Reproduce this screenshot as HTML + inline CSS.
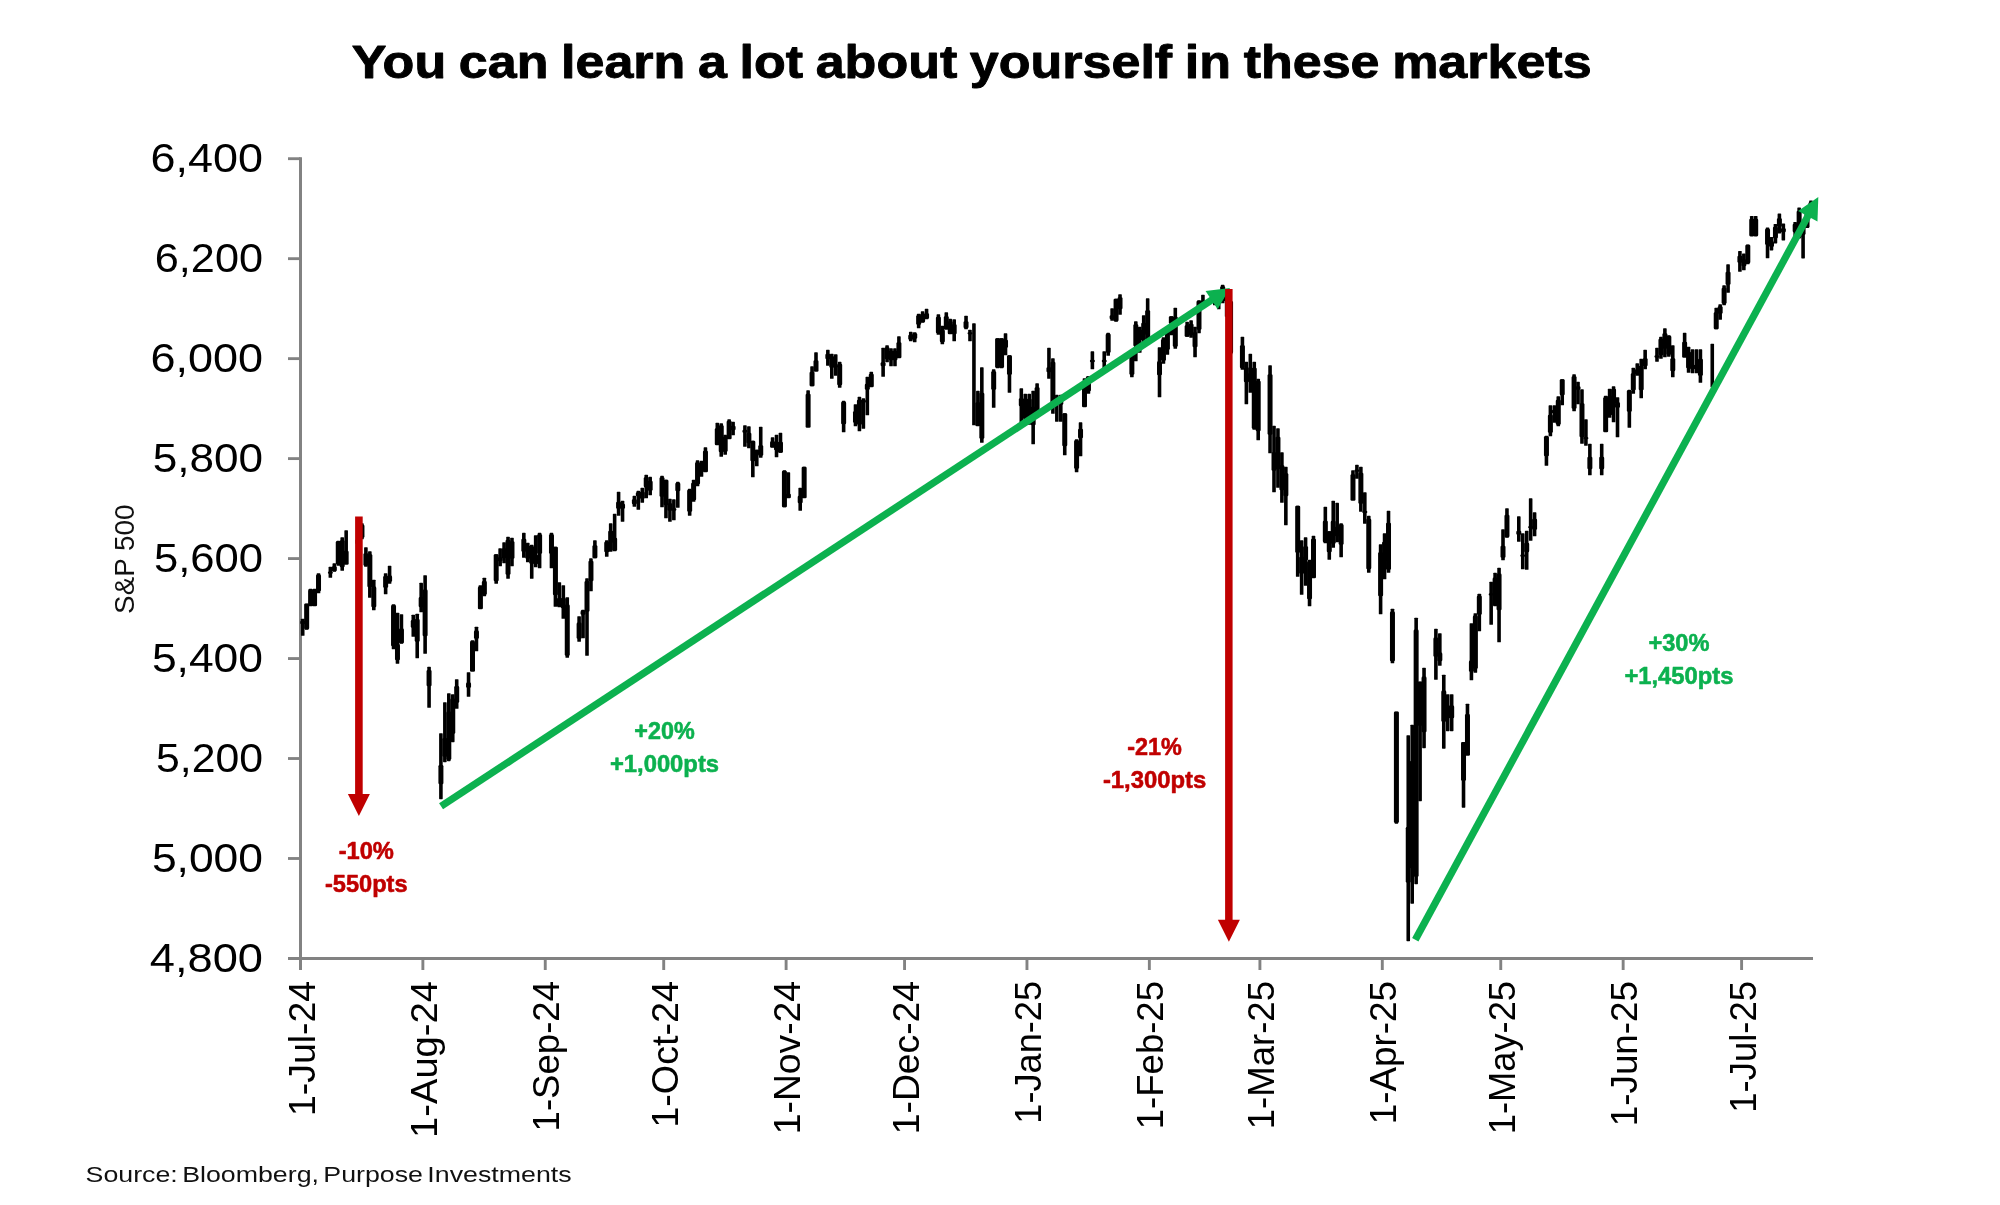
<!DOCTYPE html>
<html><head><meta charset="utf-8"><title>S&amp;P 500 chart</title>
<style>html,body{margin:0;padding:0;background:#fff}svg{will-change:transform}body{width:2000px;height:1205px;overflow:hidden;font-family:"Liberation Sans", sans-serif}</style>
</head><body>
<svg width="2000" height="1205" viewBox="0 0 2000 1205" style="display:block">
<rect width="2000" height="1205" fill="#fff"/>
<text x="351.8" y="78.2" font-family='"Liberation Sans", sans-serif' font-weight="700" font-size="46.2" word-spacing="-1.6" textLength="1239.8" lengthAdjust="spacingAndGlyphs" fill="#000" stroke="#000" stroke-width="0.9" stroke-linejoin="round">You can learn a lot about yourself in these markets</text>
<g stroke="#828282" fill="none">
<line x1="300.5" y1="157.2" x2="300.5" y2="970" stroke-width="3"/>
<line x1="288" y1="958.5" x2="1813" y2="958.5" stroke-width="2.95"/>
<line x1="288" y1="158.7" x2="300.5" y2="158.7" stroke-width="2.85"/>
<line x1="288" y1="258.67" x2="300.5" y2="258.67" stroke-width="2.85"/>
<line x1="288" y1="358.64" x2="300.5" y2="358.64" stroke-width="2.85"/>
<line x1="288" y1="458.61" x2="300.5" y2="458.61" stroke-width="2.85"/>
<line x1="288" y1="558.58" x2="300.5" y2="558.58" stroke-width="2.85"/>
<line x1="288" y1="658.55" x2="300.5" y2="658.55" stroke-width="2.85"/>
<line x1="288" y1="758.52" x2="300.5" y2="758.52" stroke-width="2.85"/>
<line x1="288" y1="858.49" x2="300.5" y2="858.49" stroke-width="2.85"/>
<line x1="422.87" y1="958.45" x2="422.87" y2="970" stroke-width="2.9"/>
<line x1="545.26" y1="958.45" x2="545.26" y2="970" stroke-width="2.9"/>
<line x1="663.71" y1="958.45" x2="663.71" y2="970" stroke-width="2.9"/>
<line x1="786.11" y1="958.45" x2="786.11" y2="970" stroke-width="2.9"/>
<line x1="904.56" y1="958.45" x2="904.56" y2="970" stroke-width="2.9"/>
<line x1="1026.96" y1="958.45" x2="1026.96" y2="970" stroke-width="2.9"/>
<line x1="1149.35" y1="958.45" x2="1149.35" y2="970" stroke-width="2.9"/>
<line x1="1259.91" y1="958.45" x2="1259.91" y2="970" stroke-width="2.9"/>
<line x1="1382.3" y1="958.45" x2="1382.3" y2="970" stroke-width="2.9"/>
<line x1="1500.75" y1="958.45" x2="1500.75" y2="970" stroke-width="2.9"/>
<line x1="1623.15" y1="958.45" x2="1623.15" y2="970" stroke-width="2.9"/>
<line x1="1741.6" y1="958.45" x2="1741.6" y2="970" stroke-width="2.9"/>
</g>
<g font-family='"Liberation Sans", sans-serif' font-size="41.3" fill="#000">
<text x="150.6" y="172.4" textLength="112.4" lengthAdjust="spacingAndGlyphs">6,400</text>
<text x="154.8" y="272.4" textLength="108.2" lengthAdjust="spacingAndGlyphs">6,200</text>
<text x="150.4" y="372.4" textLength="112.6" lengthAdjust="spacingAndGlyphs">6,000</text>
<text x="152.7" y="472.4" textLength="110.3" lengthAdjust="spacingAndGlyphs">5,800</text>
<text x="153.9" y="572.4" textLength="109.1" lengthAdjust="spacingAndGlyphs">5,600</text>
<text x="151.9" y="672.4" textLength="111.1" lengthAdjust="spacingAndGlyphs">5,400</text>
<text x="156" y="772.4" textLength="107" lengthAdjust="spacingAndGlyphs">5,200</text>
<text x="151.9" y="872.4" textLength="111.1" lengthAdjust="spacingAndGlyphs">5,000</text>
<text x="149.8" y="972.4" textLength="113.2" lengthAdjust="spacingAndGlyphs">4,800</text>
</g>
<g font-family='"Liberation Sans", sans-serif' font-size="36" fill="#000">
<text transform="translate(314.5 1115.9) rotate(-90)" textLength="134.9" lengthAdjust="spacingAndGlyphs">1-Jul-24</text>
<text transform="translate(436.87 1138) rotate(-90)" textLength="157" lengthAdjust="spacingAndGlyphs">1-Aug-24</text>
<text transform="translate(559.26 1131.4) rotate(-90)" textLength="150.4" lengthAdjust="spacingAndGlyphs">1-Sep-24</text>
<text transform="translate(677.71 1127.7) rotate(-90)" textLength="146.7" lengthAdjust="spacingAndGlyphs">1-Oct-24</text>
<text transform="translate(800.11 1134.2) rotate(-90)" textLength="153.2" lengthAdjust="spacingAndGlyphs">1-Nov-24</text>
<text transform="translate(918.56 1134.2) rotate(-90)" textLength="153.2" lengthAdjust="spacingAndGlyphs">1-Dec-24</text>
<text transform="translate(1040.96 1123.7) rotate(-90)" textLength="142.7" lengthAdjust="spacingAndGlyphs">1-Jan-25</text>
<text transform="translate(1163.35 1129.2) rotate(-90)" textLength="148.2" lengthAdjust="spacingAndGlyphs">1-Feb-25</text>
<text transform="translate(1273.91 1129.2) rotate(-90)" textLength="148.2" lengthAdjust="spacingAndGlyphs">1-Mar-25</text>
<text transform="translate(1396.3 1124.2) rotate(-90)" textLength="143.2" lengthAdjust="spacingAndGlyphs">1-Apr-25</text>
<text transform="translate(1514.75 1134.2) rotate(-90)" textLength="153.2" lengthAdjust="spacingAndGlyphs">1-May-25</text>
<text transform="translate(1637.15 1126.2) rotate(-90)" textLength="145.2" lengthAdjust="spacingAndGlyphs">1-Jun-25</text>
<text transform="translate(1755.6 1112.7) rotate(-90)" textLength="131.7" lengthAdjust="spacingAndGlyphs">1-Jul-25</text>
</g>
<text transform="translate(133.7 613.9) rotate(-90)" font-family='"Liberation Sans", sans-serif' font-size="26.8" textLength="109.3" lengthAdjust="spacingAndGlyphs" fill="#111">S&amp;P 500</text>
<text x="85.6" y="1182.3" font-family='"Liberation Sans", sans-serif' font-size="22.6" word-spacing="-2.6" textLength="486" lengthAdjust="spacingAndGlyphs" fill="#111">Source: Bloomberg, Purpose Investments</text>
<defs><filter id="cb" x="-2%" y="-2%" width="104%" height="104%"><feGaussianBlur stdDeviation="0.5"/></filter></defs>
<g fill="#000" filter="url(#cb)">
<rect x="300.92" y="618.76" width="3.6" height="16.99" rx="0.6"/>
<rect x="300.22" y="620.61" width="5" height="3.65" rx="1.3"/>
<rect x="304.87" y="603.76" width="3.6" height="25.99" rx="0.6"/>
<rect x="304.17" y="603.61" width="5" height="25.64" rx="1.3"/>
<rect x="308.82" y="588.77" width="3.6" height="16.49" rx="0.6"/>
<rect x="308.12" y="589.62" width="5" height="16.65" rx="1.3"/>
<rect x="312.77" y="588.77" width="3.6" height="16.49" rx="0.6"/>
<rect x="312.07" y="589.62" width="5" height="16.65" rx="1.3"/>
<rect x="316.72" y="573.27" width="3.6" height="19.99" rx="0.6"/>
<rect x="316.02" y="574.62" width="5" height="16.65" rx="1.3"/>
<rect x="328.56" y="566.78" width="3.6" height="11" rx="0.6"/>
<rect x="327.86" y="571.57" width="5" height="2.25" rx="1.3"/>
<rect x="332.51" y="563.28" width="3.6" height="8.5" rx="0.6"/>
<rect x="331.81" y="566.13" width="5" height="5.15" rx="1.3"/>
<rect x="336.46" y="540.78" width="3.6" height="24.99" rx="0.6"/>
<rect x="335.76" y="541.13" width="5" height="23.14" rx="1.3"/>
<rect x="340.41" y="537.28" width="3.6" height="33.49" rx="0.6"/>
<rect x="339.71" y="540.13" width="5" height="27.14" rx="1.3"/>
<rect x="344.36" y="530.29" width="3.6" height="33.49" rx="0.6"/>
<rect x="343.66" y="550.63" width="5" height="14.15" rx="1.3"/>
<rect x="356.2" y="525.29" width="3.6" height="26.49" rx="0.6"/>
<rect x="355.5" y="539.13" width="5" height="5.15" rx="1.3"/>
<rect x="360.15" y="523.29" width="3.6" height="16" rx="0.6"/>
<rect x="359.45" y="524.64" width="5" height="13.15" rx="1.3"/>
<rect x="364.1" y="547.28" width="3.6" height="19.49" rx="0.6"/>
<rect x="363.4" y="553.13" width="5" height="12.65" rx="1.3"/>
<rect x="368.05" y="551.28" width="3.6" height="46.49" rx="0.6"/>
<rect x="367.35" y="554.13" width="5" height="33.14" rx="1.3"/>
<rect x="371.99" y="579.77" width="3.6" height="30.49" rx="0.6"/>
<rect x="371.29" y="586.62" width="5" height="20.64" rx="1.3"/>
<rect x="383.84" y="573.27" width="3.6" height="20.99" rx="0.6"/>
<rect x="383.14" y="576.12" width="5" height="11.65" rx="1.3"/>
<rect x="387.79" y="565.78" width="3.6" height="17.99" rx="0.6"/>
<rect x="387.09" y="575.62" width="5" height="6.15" rx="1.3"/>
<rect x="391.74" y="604.26" width="3.6" height="44.99" rx="0.6"/>
<rect x="391.04" y="605.11" width="5" height="41.14" rx="1.3"/>
<rect x="395.68" y="612.76" width="3.6" height="50.98" rx="0.6"/>
<rect x="394.98" y="644.1" width="5" height="16.15" rx="1.3"/>
<rect x="399.63" y="614.26" width="3.6" height="29.49" rx="0.6"/>
<rect x="398.93" y="628.61" width="5" height="14.65" rx="1.3"/>
<rect x="411.48" y="614.76" width="3.6" height="21.99" rx="0.6"/>
<rect x="410.78" y="620.11" width="5" height="7.65" rx="1.3"/>
<rect x="415.42" y="613.76" width="3.6" height="44.49" rx="0.6"/>
<rect x="414.72" y="619.11" width="5" height="22.64" rx="1.3"/>
<rect x="419.37" y="582.77" width="3.6" height="29.49" rx="0.6"/>
<rect x="418.67" y="597.12" width="5" height="10.15" rx="1.3"/>
<rect x="423.32" y="575.27" width="3.6" height="78.48" rx="0.6"/>
<rect x="422.62" y="589.62" width="5" height="46.64" rx="1.3"/>
<rect x="427.27" y="666.74" width="3.6" height="40.99" rx="0.6"/>
<rect x="426.57" y="670.09" width="5" height="16.15" rx="1.3"/>
<rect x="439.11" y="733.22" width="3.6" height="65.98" rx="0.6"/>
<rect x="438.41" y="765.06" width="5" height="19.14" rx="1.3"/>
<rect x="443.06" y="702.23" width="3.6" height="59.98" rx="0.6"/>
<rect x="442.36" y="738.07" width="5" height="18.64" rx="1.3"/>
<rect x="447.01" y="693.23" width="3.6" height="67.98" rx="0.6"/>
<rect x="446.31" y="711.58" width="5" height="48.14" rx="1.3"/>
<rect x="450.96" y="694.23" width="3.6" height="47.98" rx="0.6"/>
<rect x="450.26" y="698.58" width="5" height="35.14" rx="1.3"/>
<rect x="454.91" y="679.24" width="3.6" height="29.49" rx="0.6"/>
<rect x="454.21" y="686.09" width="5" height="16.65" rx="1.3"/>
<rect x="466.75" y="672.24" width="3.6" height="24.49" rx="0.6"/>
<rect x="466.05" y="682.59" width="5" height="5.15" rx="1.3"/>
<rect x="470.7" y="640.25" width="3.6" height="30.49" rx="0.6"/>
<rect x="470" y="641.1" width="5" height="30.64" rx="1.3"/>
<rect x="474.65" y="626.76" width="3.6" height="24.49" rx="0.6"/>
<rect x="473.95" y="630.6" width="5" height="8.15" rx="1.3"/>
<rect x="478.6" y="585.27" width="3.6" height="22.99" rx="0.6"/>
<rect x="477.9" y="586.62" width="5" height="22.64" rx="1.3"/>
<rect x="482.55" y="577.77" width="3.6" height="18.49" rx="0.6"/>
<rect x="481.85" y="581.12" width="5" height="13.65" rx="1.3"/>
<rect x="494.39" y="554.28" width="3.6" height="29.49" rx="0.6"/>
<rect x="493.69" y="554.13" width="5" height="27.14" rx="1.3"/>
<rect x="498.34" y="548.28" width="3.6" height="17.99" rx="0.6"/>
<rect x="497.64" y="557.13" width="5" height="4.15" rx="1.3"/>
<rect x="502.29" y="542.28" width="3.6" height="20.99" rx="0.6"/>
<rect x="501.59" y="548.13" width="5" height="10.15" rx="1.3"/>
<rect x="506.24" y="536.78" width="3.6" height="41.99" rx="0.6"/>
<rect x="505.54" y="539.63" width="5" height="35.14" rx="1.3"/>
<rect x="510.18" y="537.78" width="3.6" height="28.49" rx="0.6"/>
<rect x="509.48" y="541.13" width="5" height="17.64" rx="1.3"/>
<rect x="522.03" y="532.79" width="3.6" height="24.99" rx="0.6"/>
<rect x="521.33" y="538.63" width="5" height="13.15" rx="1.3"/>
<rect x="525.98" y="542.78" width="3.6" height="19.49" rx="0.6"/>
<rect x="525.28" y="545.63" width="5" height="13.15" rx="1.3"/>
<rect x="529.93" y="544.78" width="3.6" height="33.99" rx="0.6"/>
<rect x="529.23" y="546.13" width="5" height="17.64" rx="1.3"/>
<rect x="533.87" y="535.29" width="3.6" height="31.99" rx="0.6"/>
<rect x="533.17" y="554.63" width="5" height="9.65" rx="1.3"/>
<rect x="537.82" y="532.79" width="3.6" height="35.49" rx="0.6"/>
<rect x="537.12" y="534.14" width="5" height="19.64" rx="1.3"/>
<rect x="549.67" y="532.79" width="3.6" height="35.49" rx="0.6"/>
<rect x="548.97" y="534.14" width="5" height="19.64" rx="1.3"/>
<rect x="553.62" y="546.78" width="3.6" height="59.98" rx="0.6"/>
<rect x="552.92" y="546.63" width="5" height="48.63" rx="1.3"/>
<rect x="557.56" y="582.27" width="3.6" height="24.99" rx="0.6"/>
<rect x="556.86" y="598.12" width="5" height="8.65" rx="1.3"/>
<rect x="561.51" y="585.27" width="3.6" height="33.49" rx="0.6"/>
<rect x="560.81" y="598.12" width="5" height="10.15" rx="1.3"/>
<rect x="565.46" y="597.27" width="3.6" height="60.48" rx="0.6"/>
<rect x="564.76" y="604.61" width="5" height="51.13" rx="1.3"/>
<rect x="577.31" y="616.26" width="3.6" height="25.49" rx="0.6"/>
<rect x="576.61" y="622.61" width="5" height="16.15" rx="1.3"/>
<rect x="581.25" y="609.76" width="3.6" height="28.49" rx="0.6"/>
<rect x="580.55" y="610.61" width="5" height="4.15" rx="1.3"/>
<rect x="585.2" y="578.27" width="3.6" height="77.48" rx="0.6"/>
<rect x="584.5" y="581.12" width="5" height="30.64" rx="1.3"/>
<rect x="589.15" y="558.28" width="3.6" height="32.99" rx="0.6"/>
<rect x="588.45" y="560.63" width="5" height="20.64" rx="1.3"/>
<rect x="593.1" y="540.28" width="3.6" height="17.99" rx="0.6"/>
<rect x="592.4" y="545.13" width="5" height="13.15" rx="1.3"/>
<rect x="604.94" y="540.28" width="3.6" height="16.49" rx="0.6"/>
<rect x="604.24" y="541.63" width="5" height="10.65" rx="1.3"/>
<rect x="608.89" y="523.29" width="3.6" height="28.49" rx="0.6"/>
<rect x="608.19" y="530.64" width="5" height="12.15" rx="1.3"/>
<rect x="612.84" y="513.79" width="3.6" height="37.49" rx="0.6"/>
<rect x="612.14" y="537.63" width="5" height="13.15" rx="1.3"/>
<rect x="616.79" y="491.8" width="3.6" height="23.99" rx="0.6"/>
<rect x="616.09" y="501.65" width="5" height="7.15" rx="1.3"/>
<rect x="620.74" y="500.8" width="3.6" height="20.99" rx="0.6"/>
<rect x="620.04" y="503.65" width="5" height="5.15" rx="1.3"/>
<rect x="632.58" y="495.8" width="3.6" height="11" rx="0.6"/>
<rect x="631.88" y="499.15" width="5" height="5.15" rx="1.3"/>
<rect x="636.53" y="490.8" width="3.6" height="18.99" rx="0.6"/>
<rect x="635.83" y="492.15" width="5" height="4.15" rx="1.3"/>
<rect x="640.48" y="487.8" width="3.6" height="15" rx="0.6"/>
<rect x="639.78" y="491.65" width="5" height="7.15" rx="1.3"/>
<rect x="644.43" y="474.8" width="3.6" height="23.49" rx="0.6"/>
<rect x="643.73" y="477.15" width="5" height="10.15" rx="1.3"/>
<rect x="648.37" y="476.8" width="3.6" height="18.49" rx="0.6"/>
<rect x="647.67" y="480.65" width="5" height="10.15" rx="1.3"/>
<rect x="660.22" y="475.8" width="3.6" height="31.49" rx="0.6"/>
<rect x="659.52" y="477.15" width="5" height="19.64" rx="1.3"/>
<rect x="664.17" y="479.8" width="3.6" height="38.49" rx="0.6"/>
<rect x="663.47" y="479.65" width="5" height="25.64" rx="1.3"/>
<rect x="668.12" y="498.8" width="3.6" height="22.99" rx="0.6"/>
<rect x="667.42" y="503.15" width="5" height="7.65" rx="1.3"/>
<rect x="672.06" y="499.3" width="3.6" height="20.99" rx="0.6"/>
<rect x="671.36" y="508.14" width="5" height="2.65" rx="1.3"/>
<rect x="676.01" y="481.8" width="3.6" height="25.99" rx="0.6"/>
<rect x="675.31" y="482.65" width="5" height="8.65" rx="1.3"/>
<rect x="687.86" y="488.8" width="3.6" height="26.99" rx="0.6"/>
<rect x="687.16" y="489.65" width="5" height="22.14" rx="1.3"/>
<rect x="691.81" y="479.8" width="3.6" height="21.99" rx="0.6"/>
<rect x="691.11" y="482.65" width="5" height="17.64" rx="1.3"/>
<rect x="695.75" y="460.31" width="3.6" height="25.99" rx="0.6"/>
<rect x="695.05" y="462.16" width="5" height="22.14" rx="1.3"/>
<rect x="699.7" y="460.81" width="3.6" height="16" rx="0.6"/>
<rect x="699" y="468.16" width="5" height="2.65" rx="1.3"/>
<rect x="703.65" y="447.31" width="3.6" height="23.99" rx="0.6"/>
<rect x="702.95" y="450.66" width="5" height="21.64" rx="1.3"/>
<rect x="715.5" y="422.82" width="3.6" height="21.49" rx="0.6"/>
<rect x="714.8" y="428.17" width="5" height="17.15" rx="1.3"/>
<rect x="719.44" y="423.32" width="3.6" height="33.49" rx="0.6"/>
<rect x="718.74" y="425.17" width="5" height="27.14" rx="1.3"/>
<rect x="723.39" y="434.82" width="3.6" height="19.99" rx="0.6"/>
<rect x="722.69" y="436.67" width="5" height="15.15" rx="1.3"/>
<rect x="727.34" y="419.32" width="3.6" height="19.49" rx="0.6"/>
<rect x="726.64" y="420.67" width="5" height="18.64" rx="1.3"/>
<rect x="731.29" y="421.82" width="3.6" height="13.5" rx="0.6"/>
<rect x="730.59" y="425.67" width="5" height="4.65" rx="1.3"/>
<rect x="743.13" y="425.32" width="3.6" height="21.49" rx="0.6"/>
<rect x="742.43" y="429.67" width="5" height="3.15" rx="1.3"/>
<rect x="747.08" y="426.32" width="3.6" height="21.99" rx="0.6"/>
<rect x="746.38" y="432.67" width="5" height="10.65" rx="1.3"/>
<rect x="751.03" y="440.82" width="3.6" height="36.49" rx="0.6"/>
<rect x="750.33" y="440.67" width="5" height="20.64" rx="1.3"/>
<rect x="754.98" y="449.81" width="3.6" height="16.49" rx="0.6"/>
<rect x="754.28" y="449.66" width="5" height="5.15" rx="1.3"/>
<rect x="758.93" y="426.82" width="3.6" height="30.99" rx="0.6"/>
<rect x="758.23" y="445.16" width="5" height="10.65" rx="1.3"/>
<rect x="770.77" y="437.32" width="3.6" height="10" rx="0.6"/>
<rect x="770.07" y="441.17" width="5" height="6.65" rx="1.3"/>
<rect x="774.72" y="434.82" width="3.6" height="22.49" rx="0.6"/>
<rect x="774.02" y="441.67" width="5" height="8.65" rx="1.3"/>
<rect x="778.67" y="432.82" width="3.6" height="19.99" rx="0.6"/>
<rect x="777.97" y="441.67" width="5" height="11.15" rx="1.3"/>
<rect x="782.62" y="470.31" width="3.6" height="36.99" rx="0.6"/>
<rect x="781.92" y="470.66" width="5" height="36.64" rx="1.3"/>
<rect x="786.57" y="472.31" width="3.6" height="24.99" rx="0.6"/>
<rect x="785.87" y="493.65" width="5" height="4.65" rx="1.3"/>
<rect x="798.41" y="487.8" width="3.6" height="22.99" rx="0.6"/>
<rect x="797.71" y="495.65" width="5" height="7.65" rx="1.3"/>
<rect x="802.36" y="466.81" width="3.6" height="30.99" rx="0.6"/>
<rect x="801.66" y="466.66" width="5" height="31.64" rx="1.3"/>
<rect x="806.31" y="390.33" width="3.6" height="36.49" rx="0.6"/>
<rect x="805.61" y="393.68" width="5" height="34.14" rx="1.3"/>
<rect x="810.25" y="366.34" width="3.6" height="19.99" rx="0.6"/>
<rect x="809.55" y="371.69" width="5" height="14.65" rx="1.3"/>
<rect x="814.2" y="352.34" width="3.6" height="18.49" rx="0.6"/>
<rect x="813.5" y="360.19" width="5" height="11.65" rx="1.3"/>
<rect x="826.05" y="349.84" width="3.6" height="16" rx="0.6"/>
<rect x="825.35" y="353.69" width="5" height="5.65" rx="1.3"/>
<rect x="830" y="353.84" width="3.6" height="24.99" rx="0.6"/>
<rect x="829.3" y="356.19" width="5" height="11.65" rx="1.3"/>
<rect x="833.94" y="354.34" width="3.6" height="21.49" rx="0.6"/>
<rect x="833.24" y="365.14" width="5" height="2.25" rx="1.3"/>
<rect x="837.89" y="361.84" width="3.6" height="25.99" rx="0.6"/>
<rect x="837.19" y="363.69" width="5" height="21.64" rx="1.3"/>
<rect x="841.84" y="400.83" width="3.6" height="31.49" rx="0.6"/>
<rect x="841.14" y="401.68" width="5" height="22.64" rx="1.3"/>
<rect x="853.69" y="404.33" width="3.6" height="21.99" rx="0.6"/>
<rect x="852.99" y="411.18" width="5" height="11.65" rx="1.3"/>
<rect x="857.63" y="396.83" width="3.6" height="34.49" rx="0.6"/>
<rect x="856.93" y="399.68" width="5" height="25.14" rx="1.3"/>
<rect x="861.58" y="398.33" width="3.6" height="30.49" rx="0.6"/>
<rect x="860.88" y="399.68" width="5" height="3.15" rx="1.3"/>
<rect x="865.53" y="376.84" width="3.6" height="38.49" rx="0.6"/>
<rect x="864.83" y="383.68" width="5" height="6.15" rx="1.3"/>
<rect x="869.48" y="371.84" width="3.6" height="15" rx="0.6"/>
<rect x="868.78" y="373.69" width="5" height="13.65" rx="1.3"/>
<rect x="881.32" y="347.85" width="3.6" height="28.99" rx="0.6"/>
<rect x="880.62" y="362.19" width="5" height="4.15" rx="1.3"/>
<rect x="885.27" y="345.35" width="3.6" height="16.99" rx="0.6"/>
<rect x="884.57" y="347.2" width="5" height="12.15" rx="1.3"/>
<rect x="889.22" y="348.35" width="3.6" height="17.99" rx="0.6"/>
<rect x="888.52" y="350.69" width="5" height="9.65" rx="1.3"/>
<rect x="893.17" y="348.35" width="3.6" height="17.99" rx="0.6"/>
<rect x="892.47" y="350.69" width="5" height="9.65" rx="1.3"/>
<rect x="897.12" y="336.35" width="3.6" height="20.99" rx="0.6"/>
<rect x="896.42" y="342.2" width="5" height="16.15" rx="1.3"/>
<rect x="908.96" y="331.85" width="3.6" height="9.5" rx="0.6"/>
<rect x="908.26" y="334.7" width="5" height="5.15" rx="1.3"/>
<rect x="912.91" y="332.35" width="3.6" height="10" rx="0.6"/>
<rect x="912.21" y="333.2" width="5" height="5.65" rx="1.3"/>
<rect x="916.86" y="313.86" width="3.6" height="14.5" rx="0.6"/>
<rect x="916.16" y="315.21" width="5" height="9.65" rx="1.3"/>
<rect x="920.81" y="311.36" width="3.6" height="11.5" rx="0.6"/>
<rect x="920.11" y="313.71" width="5" height="8.65" rx="1.3"/>
<rect x="924.76" y="308.86" width="3.6" height="10.5" rx="0.6"/>
<rect x="924.06" y="313.21" width="5" height="5.65" rx="1.3"/>
<rect x="936.6" y="314.36" width="3.6" height="20.49" rx="0.6"/>
<rect x="935.9" y="316.71" width="5" height="16.65" rx="1.3"/>
<rect x="940.55" y="325.85" width="3.6" height="18.49" rx="0.6"/>
<rect x="939.85" y="329.7" width="5" height="12.65" rx="1.3"/>
<rect x="944.5" y="312.36" width="3.6" height="16.49" rx="0.6"/>
<rect x="943.8" y="316.21" width="5" height="13.65" rx="1.3"/>
<rect x="948.45" y="318.85" width="3.6" height="14.5" rx="0.6"/>
<rect x="947.75" y="321.2" width="5" height="13.15" rx="1.3"/>
<rect x="952.39" y="319.35" width="3.6" height="21.99" rx="0.6"/>
<rect x="951.69" y="324.2" width="5" height="10.15" rx="1.3"/>
<rect x="964.24" y="315.86" width="3.6" height="13.5" rx="0.6"/>
<rect x="963.54" y="321.2" width="5" height="7.15" rx="1.3"/>
<rect x="968.19" y="329.85" width="3.6" height="11.5" rx="0.6"/>
<rect x="967.49" y="332.15" width="5" height="2.25" rx="1.3"/>
<rect x="972.14" y="323.35" width="3.6" height="101.97" rx="0.6"/>
<rect x="976.08" y="390.83" width="3.6" height="34.99" rx="0.6"/>
<rect x="975.38" y="402.18" width="5" height="24.14" rx="1.3"/>
<rect x="980.03" y="367.34" width="3.6" height="75.48" rx="0.6"/>
<rect x="979.33" y="392.68" width="5" height="46.14" rx="1.3"/>
<rect x="991.88" y="369.34" width="3.6" height="38.49" rx="0.6"/>
<rect x="991.18" y="371.19" width="5" height="18.64" rx="1.3"/>
<rect x="995.82" y="338.35" width="3.6" height="29.99" rx="0.6"/>
<rect x="995.12" y="338.2" width="5" height="29.64" rx="1.3"/>
<rect x="999.77" y="338.35" width="3.6" height="29.99" rx="0.6"/>
<rect x="999.07" y="338.2" width="5" height="29.64" rx="1.3"/>
<rect x="1003.72" y="333.35" width="3.6" height="21.99" rx="0.6"/>
<rect x="1003.02" y="339.7" width="5" height="8.15" rx="1.3"/>
<rect x="1007.67" y="355.34" width="3.6" height="37.49" rx="0.6"/>
<rect x="1006.97" y="355.19" width="5" height="19.64" rx="1.3"/>
<rect x="1019.51" y="388.33" width="3.6" height="35.99" rx="0.6"/>
<rect x="1018.81" y="398.18" width="5" height="8.15" rx="1.3"/>
<rect x="1023.46" y="393.83" width="3.6" height="30.99" rx="0.6"/>
<rect x="1022.76" y="398.68" width="5" height="20.14" rx="1.3"/>
<rect x="1027.41" y="393.83" width="3.6" height="30.99" rx="0.6"/>
<rect x="1026.71" y="398.68" width="5" height="20.14" rx="1.3"/>
<rect x="1031.36" y="390.83" width="3.6" height="53.48" rx="0.6"/>
<rect x="1030.66" y="406.68" width="5" height="18.64" rx="1.3"/>
<rect x="1035.31" y="383.33" width="3.6" height="31.49" rx="0.6"/>
<rect x="1034.61" y="387.18" width="5" height="27.14" rx="1.3"/>
<rect x="1047.15" y="347.85" width="3.6" height="30.99" rx="0.6"/>
<rect x="1046.45" y="367.19" width="5" height="5.15" rx="1.3"/>
<rect x="1051.1" y="358.34" width="3.6" height="55.48" rx="0.6"/>
<rect x="1050.4" y="361.69" width="5" height="43.64" rx="1.3"/>
<rect x="1055.05" y="394.83" width="3.6" height="26.99" rx="0.6"/>
<rect x="1054.35" y="399.18" width="5" height="5.65" rx="1.3"/>
<rect x="1059" y="394.83" width="3.6" height="26.99" rx="0.6"/>
<rect x="1058.3" y="399.18" width="5" height="5.65" rx="1.3"/>
<rect x="1062.95" y="413.32" width="3.6" height="41.99" rx="0.6"/>
<rect x="1062.25" y="413.17" width="5" height="33.14" rx="1.3"/>
<rect x="1074.79" y="439.32" width="3.6" height="32.99" rx="0.6"/>
<rect x="1074.09" y="440.17" width="5" height="28.64" rx="1.3"/>
<rect x="1078.74" y="422.32" width="3.6" height="33.99" rx="0.6"/>
<rect x="1078.04" y="428.67" width="5" height="9.65" rx="1.3"/>
<rect x="1082.69" y="378.34" width="3.6" height="27.99" rx="0.6"/>
<rect x="1081.99" y="383.18" width="5" height="24.14" rx="1.3"/>
<rect x="1086.64" y="376.34" width="3.6" height="17.49" rx="0.6"/>
<rect x="1085.94" y="376.19" width="5" height="15.15" rx="1.3"/>
<rect x="1090.58" y="351.34" width="3.6" height="17.99" rx="0.6"/>
<rect x="1089.88" y="359.69" width="5" height="2.65" rx="1.3"/>
<rect x="1102.43" y="351.34" width="3.6" height="17.99" rx="0.6"/>
<rect x="1101.73" y="359.69" width="5" height="2.65" rx="1.3"/>
<rect x="1106.38" y="332.85" width="3.6" height="22.99" rx="0.6"/>
<rect x="1105.68" y="333.7" width="5" height="19.14" rx="1.3"/>
<rect x="1110.33" y="308.36" width="3.6" height="12.5" rx="0.6"/>
<rect x="1109.63" y="315.21" width="5" height="4.15" rx="1.3"/>
<rect x="1114.27" y="298.86" width="3.6" height="22.99" rx="0.6"/>
<rect x="1113.57" y="298.71" width="5" height="22.64" rx="1.3"/>
<rect x="1118.22" y="294.36" width="3.6" height="20.49" rx="0.6"/>
<rect x="1117.52" y="297.21" width="5" height="12.15" rx="1.3"/>
<rect x="1130.07" y="349.84" width="3.6" height="27.49" rx="0.6"/>
<rect x="1129.37" y="352.19" width="5" height="22.64" rx="1.3"/>
<rect x="1134.02" y="321.35" width="3.6" height="39.99" rx="0.6"/>
<rect x="1133.32" y="324.2" width="5" height="22.14" rx="1.3"/>
<rect x="1137.96" y="326.85" width="3.6" height="25.99" rx="0.6"/>
<rect x="1137.26" y="329.7" width="5" height="10.65" rx="1.3"/>
<rect x="1141.91" y="315.36" width="3.6" height="29.99" rx="0.6"/>
<rect x="1141.21" y="322.7" width="5" height="12.15" rx="1.3"/>
<rect x="1145.86" y="298.36" width="3.6" height="45.49" rx="0.6"/>
<rect x="1145.16" y="310.21" width="5" height="29.64" rx="1.3"/>
<rect x="1157.71" y="347.35" width="3.6" height="49.98" rx="0.6"/>
<rect x="1157.01" y="361.19" width="5" height="14.15" rx="1.3"/>
<rect x="1161.65" y="337.35" width="3.6" height="26.49" rx="0.6"/>
<rect x="1160.95" y="339.2" width="5" height="21.64" rx="1.3"/>
<rect x="1165.6" y="327.35" width="3.6" height="27.49" rx="0.6"/>
<rect x="1164.9" y="327.7" width="5" height="22.14" rx="1.3"/>
<rect x="1169.55" y="316.36" width="3.6" height="18.99" rx="0.6"/>
<rect x="1168.85" y="316.21" width="5" height="7.65" rx="1.3"/>
<rect x="1173.5" y="307.86" width="3.6" height="40.99" rx="0.6"/>
<rect x="1172.8" y="316.71" width="5" height="30.14" rx="1.3"/>
<rect x="1185.34" y="321.85" width="3.6" height="15" rx="0.6"/>
<rect x="1184.64" y="325.2" width="5" height="11.65" rx="1.3"/>
<rect x="1189.29" y="320.35" width="3.6" height="17.49" rx="0.6"/>
<rect x="1188.59" y="323.7" width="5" height="11.65" rx="1.3"/>
<rect x="1193.24" y="326.85" width="3.6" height="30.49" rx="0.6"/>
<rect x="1192.54" y="332.2" width="5" height="15.15" rx="1.3"/>
<rect x="1197.19" y="300.36" width="3.6" height="32.99" rx="0.6"/>
<rect x="1196.49" y="300.71" width="5" height="29.14" rx="1.3"/>
<rect x="1201.14" y="294.86" width="3.6" height="10.5" rx="0.6"/>
<rect x="1200.44" y="300.41" width="5" height="2.25" rx="1.3"/>
<rect x="1212.98" y="294.86" width="3.6" height="10.5" rx="0.6"/>
<rect x="1212.28" y="300.41" width="5" height="2.25" rx="1.3"/>
<rect x="1216.93" y="293.36" width="3.6" height="16" rx="0.6"/>
<rect x="1216.23" y="293.21" width="5" height="6.15" rx="1.3"/>
<rect x="1220.88" y="284.87" width="3.6" height="18.49" rx="0.6"/>
<rect x="1220.18" y="286.22" width="5" height="15.15" rx="1.3"/>
<rect x="1224.83" y="290.86" width="3.6" height="25.99" rx="0.6"/>
<rect x="1224.13" y="290.71" width="5" height="10.15" rx="1.3"/>
<rect x="1228.77" y="300.86" width="3.6" height="53.48" rx="0.6"/>
<rect x="1228.07" y="301.21" width="5" height="52.13" rx="1.3"/>
<rect x="1240.62" y="336.85" width="3.6" height="32.99" rx="0.6"/>
<rect x="1239.92" y="345.2" width="5" height="23.14" rx="1.3"/>
<rect x="1244.57" y="361.84" width="3.6" height="42.49" rx="0.6"/>
<rect x="1243.87" y="367.19" width="5" height="15.15" rx="1.3"/>
<rect x="1248.52" y="353.84" width="3.6" height="38.99" rx="0.6"/>
<rect x="1247.82" y="373.19" width="5" height="8.65" rx="1.3"/>
<rect x="1252.46" y="361.84" width="3.6" height="67.98" rx="0.6"/>
<rect x="1251.76" y="367.69" width="5" height="61.13" rx="1.3"/>
<rect x="1256.41" y="378.84" width="3.6" height="61.48" rx="0.6"/>
<rect x="1255.71" y="380.68" width="5" height="50.63" rx="1.3"/>
<rect x="1268.26" y="365.34" width="3.6" height="87.97" rx="0.6"/>
<rect x="1267.56" y="374.19" width="5" height="60.63" rx="1.3"/>
<rect x="1272.21" y="425.82" width="3.6" height="66.48" rx="0.6"/>
<rect x="1271.51" y="452.16" width="5" height="18.64" rx="1.3"/>
<rect x="1276.15" y="428.32" width="3.6" height="59.48" rx="0.6"/>
<rect x="1275.45" y="436.67" width="5" height="32.64" rx="1.3"/>
<rect x="1280.1" y="452.31" width="3.6" height="50.48" rx="0.6"/>
<rect x="1279.4" y="465.16" width="5" height="25.14" rx="1.3"/>
<rect x="1284.05" y="466.81" width="3.6" height="58.48" rx="0.6"/>
<rect x="1283.35" y="473.16" width="5" height="23.14" rx="1.3"/>
<rect x="1295.9" y="505.79" width="3.6" height="70.98" rx="0.6"/>
<rect x="1295.2" y="505.64" width="5" height="47.14" rx="1.3"/>
<rect x="1299.84" y="540.28" width="3.6" height="54.48" rx="0.6"/>
<rect x="1299.14" y="556.63" width="5" height="17.15" rx="1.3"/>
<rect x="1303.79" y="537.28" width="3.6" height="48.48" rx="0.6"/>
<rect x="1303.09" y="546.13" width="5" height="14.15" rx="1.3"/>
<rect x="1307.74" y="559.78" width="3.6" height="46.49" rx="0.6"/>
<rect x="1307.04" y="561.13" width="5" height="38.14" rx="1.3"/>
<rect x="1311.69" y="535.79" width="3.6" height="41.49" rx="0.6"/>
<rect x="1310.99" y="538.63" width="5" height="39.64" rx="1.3"/>
<rect x="1323.53" y="506.79" width="3.6" height="36.49" rx="0.6"/>
<rect x="1322.83" y="520.64" width="5" height="21.64" rx="1.3"/>
<rect x="1327.48" y="531.29" width="3.6" height="28.49" rx="0.6"/>
<rect x="1326.78" y="531.14" width="5" height="21.14" rx="1.3"/>
<rect x="1331.43" y="500.8" width="3.6" height="46.99" rx="0.6"/>
<rect x="1330.73" y="520.64" width="5" height="23.14" rx="1.3"/>
<rect x="1335.38" y="502.8" width="3.6" height="39.49" rx="0.6"/>
<rect x="1334.68" y="526.64" width="5" height="9.65" rx="1.3"/>
<rect x="1339.33" y="523.29" width="3.6" height="33.99" rx="0.6"/>
<rect x="1338.63" y="524.14" width="5" height="20.64" rx="1.3"/>
<rect x="1351.17" y="470.31" width="3.6" height="29.49" rx="0.6"/>
<rect x="1350.47" y="474.15" width="5" height="26.64" rx="1.3"/>
<rect x="1355.12" y="464.81" width="3.6" height="14" rx="0.6"/>
<rect x="1354.42" y="469.61" width="5" height="2.25" rx="1.3"/>
<rect x="1359.07" y="466.81" width="3.6" height="44.99" rx="0.6"/>
<rect x="1358.37" y="472.66" width="5" height="31.14" rx="1.3"/>
<rect x="1363.02" y="492.3" width="3.6" height="31.49" rx="0.6"/>
<rect x="1362.32" y="510.64" width="5" height="2.65" rx="1.3"/>
<rect x="1366.97" y="515.79" width="3.6" height="56.98" rx="0.6"/>
<rect x="1366.27" y="518.64" width="5" height="50.63" rx="1.3"/>
<rect x="1378.81" y="544.28" width="3.6" height="69.98" rx="0.6"/>
<rect x="1378.11" y="552.13" width="5" height="44.14" rx="1.3"/>
<rect x="1382.76" y="533.29" width="3.6" height="45.99" rx="0.6"/>
<rect x="1382.06" y="541.63" width="5" height="19.64" rx="1.3"/>
<rect x="1386.71" y="510.79" width="3.6" height="61.98" rx="0.6"/>
<rect x="1386.01" y="522.64" width="5" height="47.14" rx="1.3"/>
<rect x="1390.65" y="608.76" width="3.6" height="54.48" rx="0.6"/>
<rect x="1389.95" y="611.61" width="5" height="49.63" rx="1.3"/>
<rect x="1394.6" y="711.73" width="3.6" height="111.96" rx="0.6"/>
<rect x="1393.9" y="711.58" width="5" height="111.11" rx="1.3"/>
<rect x="1406.45" y="735.22" width="3.6" height="205.93" rx="0.6"/>
<rect x="1405.75" y="827.04" width="5" height="55.63" rx="1.3"/>
<rect x="1410.4" y="724.72" width="3.6" height="178.94" rx="0.6"/>
<rect x="1409.7" y="761.06" width="5" height="107.12" rx="1.3"/>
<rect x="1414.34" y="617.76" width="3.6" height="266.41" rx="0.6"/>
<rect x="1413.64" y="629.61" width="5" height="247.07" rx="1.3"/>
<rect x="1418.29" y="681.74" width="3.6" height="119.46" rx="0.6"/>
<rect x="1417.59" y="681.59" width="5" height="44.14" rx="1.3"/>
<rect x="1422.24" y="667.74" width="3.6" height="80.47" rx="0.6"/>
<rect x="1421.54" y="676.59" width="5" height="55.63" rx="1.3"/>
<rect x="1434.09" y="628.76" width="3.6" height="50.98" rx="0.6"/>
<rect x="1433.39" y="637.6" width="5" height="19.14" rx="1.3"/>
<rect x="1438.03" y="633.25" width="3.6" height="32.49" rx="0.6"/>
<rect x="1437.33" y="652.6" width="5" height="8.65" rx="1.3"/>
<rect x="1441.98" y="674.74" width="3.6" height="73.98" rx="0.6"/>
<rect x="1441.28" y="690.59" width="5" height="31.14" rx="1.3"/>
<rect x="1445.93" y="694.23" width="3.6" height="36.99" rx="0.6"/>
<rect x="1445.23" y="705.58" width="5" height="12.65" rx="1.3"/>
<rect x="1449.88" y="694.23" width="3.6" height="36.99" rx="0.6"/>
<rect x="1449.18" y="705.58" width="5" height="12.65" rx="1.3"/>
<rect x="1461.72" y="742.22" width="3.6" height="65.48" rx="0.6"/>
<rect x="1461.02" y="742.07" width="5" height="38.64" rx="1.3"/>
<rect x="1465.67" y="703.73" width="3.6" height="50.98" rx="0.6"/>
<rect x="1464.97" y="714.08" width="5" height="41.64" rx="1.3"/>
<rect x="1469.62" y="623.26" width="3.6" height="56.98" rx="0.6"/>
<rect x="1468.92" y="660.6" width="5" height="11.15" rx="1.3"/>
<rect x="1473.57" y="613.26" width="3.6" height="59.48" rx="0.6"/>
<rect x="1472.87" y="615.61" width="5" height="53.13" rx="1.3"/>
<rect x="1477.52" y="593.77" width="3.6" height="37.49" rx="0.6"/>
<rect x="1476.82" y="595.62" width="5" height="19.14" rx="1.3"/>
<rect x="1489.36" y="581.77" width="3.6" height="42.99" rx="0.6"/>
<rect x="1488.66" y="593.32" width="5" height="2.25" rx="1.3"/>
<rect x="1493.31" y="572.77" width="3.6" height="33.49" rx="0.6"/>
<rect x="1492.61" y="577.62" width="5" height="28.14" rx="1.3"/>
<rect x="1497.26" y="567.77" width="3.6" height="74.48" rx="0.6"/>
<rect x="1496.56" y="573.62" width="5" height="36.64" rx="1.3"/>
<rect x="1501.21" y="529.29" width="3.6" height="30.99" rx="0.6"/>
<rect x="1500.51" y="545.63" width="5" height="12.15" rx="1.3"/>
<rect x="1505.16" y="508.29" width="3.6" height="29.49" rx="0.6"/>
<rect x="1504.46" y="514.64" width="5" height="22.64" rx="1.3"/>
<rect x="1517" y="516.29" width="3.6" height="25.49" rx="0.6"/>
<rect x="1516.3" y="530.64" width="5" height="4.15" rx="1.3"/>
<rect x="1520.95" y="533.29" width="3.6" height="35.99" rx="0.6"/>
<rect x="1520.25" y="554.58" width="5" height="2.25" rx="1.3"/>
<rect x="1524.9" y="530.79" width="3.6" height="38.99" rx="0.6"/>
<rect x="1524.2" y="542.63" width="5" height="9.65" rx="1.3"/>
<rect x="1528.85" y="498.3" width="3.6" height="42.49" rx="0.6"/>
<rect x="1528.15" y="526.09" width="5" height="2.25" rx="1.3"/>
<rect x="1532.79" y="512.29" width="3.6" height="23.99" rx="0.6"/>
<rect x="1532.09" y="518.64" width="5" height="11.15" rx="1.3"/>
<rect x="1544.64" y="435.82" width="3.6" height="29.99" rx="0.6"/>
<rect x="1543.94" y="436.17" width="5" height="20.14" rx="1.3"/>
<rect x="1548.59" y="405.33" width="3.6" height="30.99" rx="0.6"/>
<rect x="1547.89" y="414.67" width="5" height="18.14" rx="1.3"/>
<rect x="1552.54" y="405.33" width="3.6" height="17.49" rx="0.6"/>
<rect x="1551.84" y="409.68" width="5" height="3.65" rx="1.3"/>
<rect x="1556.48" y="396.33" width="3.6" height="29.99" rx="0.6"/>
<rect x="1555.78" y="399.68" width="5" height="25.14" rx="1.3"/>
<rect x="1560.43" y="379.34" width="3.6" height="25.99" rx="0.6"/>
<rect x="1559.73" y="379.19" width="5" height="16.15" rx="1.3"/>
<rect x="1572.28" y="374.34" width="3.6" height="36.99" rx="0.6"/>
<rect x="1571.58" y="376.19" width="5" height="32.64" rx="1.3"/>
<rect x="1576.23" y="381.83" width="3.6" height="22.49" rx="0.6"/>
<rect x="1575.53" y="386.18" width="5" height="3.65" rx="1.3"/>
<rect x="1580.17" y="389.33" width="3.6" height="54.48" rx="0.6"/>
<rect x="1579.47" y="403.18" width="5" height="34.14" rx="1.3"/>
<rect x="1584.12" y="419.32" width="3.6" height="26.49" rx="0.6"/>
<rect x="1583.42" y="437.12" width="5" height="2.25" rx="1.3"/>
<rect x="1588.07" y="443.81" width="3.6" height="31.49" rx="0.6"/>
<rect x="1587.37" y="456.66" width="5" height="12.65" rx="1.3"/>
<rect x="1599.91" y="443.81" width="3.6" height="31.49" rx="0.6"/>
<rect x="1599.21" y="456.66" width="5" height="12.65" rx="1.3"/>
<rect x="1603.86" y="395.83" width="3.6" height="35.99" rx="0.6"/>
<rect x="1603.16" y="397.18" width="5" height="35.14" rx="1.3"/>
<rect x="1607.81" y="388.83" width="3.6" height="28.99" rx="0.6"/>
<rect x="1607.11" y="395.68" width="5" height="19.64" rx="1.3"/>
<rect x="1611.76" y="386.33" width="3.6" height="35.99" rx="0.6"/>
<rect x="1611.06" y="388.68" width="5" height="15.15" rx="1.3"/>
<rect x="1615.71" y="397.33" width="3.6" height="39.99" rx="0.6"/>
<rect x="1615.01" y="402.18" width="5" height="5.65" rx="1.3"/>
<rect x="1627.55" y="389.83" width="3.6" height="37.99" rx="0.6"/>
<rect x="1626.85" y="390.18" width="5" height="21.64" rx="1.3"/>
<rect x="1631.5" y="367.84" width="3.6" height="25.99" rx="0.6"/>
<rect x="1630.8" y="373.19" width="5" height="17.15" rx="1.3"/>
<rect x="1635.45" y="363.34" width="3.6" height="12.5" rx="0.6"/>
<rect x="1634.75" y="369.19" width="5" height="5.15" rx="1.3"/>
<rect x="1639.4" y="358.84" width="3.6" height="39.49" rx="0.6"/>
<rect x="1638.7" y="365.69" width="5" height="24.64" rx="1.3"/>
<rect x="1643.35" y="349.84" width="3.6" height="19.49" rx="0.6"/>
<rect x="1642.65" y="358.19" width="5" height="8.15" rx="1.3"/>
<rect x="1655.19" y="347.85" width="3.6" height="14" rx="0.6"/>
<rect x="1654.49" y="355.19" width="5" height="2.65" rx="1.3"/>
<rect x="1659.14" y="336.85" width="3.6" height="21.99" rx="0.6"/>
<rect x="1658.44" y="338.7" width="5" height="16.65" rx="1.3"/>
<rect x="1663.09" y="328.35" width="3.6" height="28.99" rx="0.6"/>
<rect x="1662.39" y="333.2" width="5" height="15.65" rx="1.3"/>
<rect x="1667.04" y="335.35" width="3.6" height="21.49" rx="0.6"/>
<rect x="1666.34" y="335.7" width="5" height="19.14" rx="1.3"/>
<rect x="1670.98" y="345.35" width="3.6" height="31.99" rx="0.6"/>
<rect x="1670.28" y="358.19" width="5" height="13.15" rx="1.3"/>
<rect x="1682.83" y="332.85" width="3.6" height="23.99" rx="0.6"/>
<rect x="1682.13" y="341.7" width="5" height="16.15" rx="1.3"/>
<rect x="1686.78" y="346.85" width="3.6" height="25.99" rx="0.6"/>
<rect x="1686.08" y="351.69" width="5" height="16.65" rx="1.3"/>
<rect x="1690.73" y="349.34" width="3.6" height="23.99" rx="0.6"/>
<rect x="1690.03" y="364.69" width="5" height="4.65" rx="1.3"/>
<rect x="1694.67" y="349.34" width="3.6" height="23.99" rx="0.6"/>
<rect x="1693.97" y="364.69" width="5" height="4.65" rx="1.3"/>
<rect x="1698.62" y="349.34" width="3.6" height="33.49" rx="0.6"/>
<rect x="1697.92" y="358.69" width="5" height="17.15" rx="1.3"/>
<rect x="1710.47" y="343.85" width="3.6" height="43.49" rx="0.6"/>
<rect x="1714.42" y="307.86" width="3.6" height="21.49" rx="0.6"/>
<rect x="1713.72" y="312.21" width="5" height="17.15" rx="1.3"/>
<rect x="1718.36" y="304.36" width="3.6" height="15.5" rx="0.6"/>
<rect x="1717.66" y="306.21" width="5" height="7.65" rx="1.3"/>
<rect x="1722.31" y="285.37" width="3.6" height="19.99" rx="0.6"/>
<rect x="1721.61" y="287.71" width="5" height="16.15" rx="1.3"/>
<rect x="1726.26" y="264.37" width="3.6" height="28.49" rx="0.6"/>
<rect x="1725.56" y="271.72" width="5" height="13.15" rx="1.3"/>
<rect x="1738.11" y="250.88" width="3.6" height="20.99" rx="0.6"/>
<rect x="1737.41" y="255.72" width="5" height="7.15" rx="1.3"/>
<rect x="1742.05" y="253.38" width="3.6" height="16.99" rx="0.6"/>
<rect x="1741.35" y="259.22" width="5" height="7.15" rx="1.3"/>
<rect x="1746" y="244.38" width="3.6" height="19.99" rx="0.6"/>
<rect x="1745.3" y="244.73" width="5" height="18.64" rx="1.3"/>
<rect x="1749.95" y="215.89" width="3.6" height="19.49" rx="0.6"/>
<rect x="1749.25" y="218.74" width="5" height="17.64" rx="1.3"/>
<rect x="1753.9" y="215.89" width="3.6" height="19.49" rx="0.6"/>
<rect x="1753.2" y="218.74" width="5" height="17.64" rx="1.3"/>
<rect x="1765.74" y="227.38" width="3.6" height="30.99" rx="0.6"/>
<rect x="1765.04" y="228.73" width="5" height="16.15" rx="1.3"/>
<rect x="1769.69" y="236.88" width="3.6" height="13.5" rx="0.6"/>
<rect x="1768.99" y="241.23" width="5" height="5.65" rx="1.3"/>
<rect x="1773.64" y="223.89" width="3.6" height="19.49" rx="0.6"/>
<rect x="1772.94" y="226.73" width="5" height="11.65" rx="1.3"/>
<rect x="1777.59" y="213.39" width="3.6" height="19.99" rx="0.6"/>
<rect x="1776.89" y="218.24" width="5" height="8.65" rx="1.3"/>
<rect x="1781.54" y="223.39" width="3.6" height="16.99" rx="0.6"/>
<rect x="1780.84" y="228.23" width="5" height="4.15" rx="1.3"/>
<rect x="1793.38" y="221.89" width="3.6" height="17.49" rx="0.6"/>
<rect x="1792.68" y="223.74" width="5" height="8.65" rx="1.3"/>
<rect x="1797.33" y="207.39" width="3.6" height="30.99" rx="0.6"/>
<rect x="1796.63" y="210.74" width="5" height="27.14" rx="1.3"/>
<rect x="1801.28" y="223.89" width="3.6" height="34.49" rx="0.6"/>
<rect x="1800.58" y="226.23" width="5" height="8.65" rx="1.3"/>
<rect x="1805.23" y="206.39" width="3.6" height="21.49" rx="0.6"/>
<rect x="1804.53" y="209.74" width="5" height="18.14" rx="1.3"/>
<rect x="1809.17" y="200.39" width="3.6" height="15.5" rx="0.6"/>
<rect x="1808.47" y="202.24" width="5" height="9.15" rx="1.3"/>
</g>
<line x1="441.06" y1="806.3" x2="1212.45" y2="299.53" stroke="#0CB14F" stroke-width="7.2"/><polygon points="1230,288 1217.65,309.27 1205.57,290.89" fill="#0CB14F"/>
<line x1="1415.3" y1="939.8" x2="1808.29" y2="215.36" stroke="#0CB14F" stroke-width="7.2"/><polygon points="1818.3,196.9 1817.48,221.48 1798.14,210.99" fill="#0CB14F"/>
<line x1="358.9" y1="516.4" x2="358.9" y2="795" stroke="#C00000" stroke-width="7.6"/><polygon points="358.9,816 347.9,794 369.9,794" fill="#C00000"/>
<line x1="1228.85" y1="289" x2="1228.85" y2="920.8" stroke="#C00000" stroke-width="7.5"/><polygon points="1228.85,941.8 1217.85,919.8 1239.85,919.8" fill="#C00000"/>
<g font-family='"Liberation Sans", sans-serif' font-weight="700" font-size="23.8" fill="#C00000" stroke="#C00000" stroke-width="0.55" stroke-linejoin="round"><text x="338.65" y="858.65" textLength="55.3" lengthAdjust="spacingAndGlyphs">-10%</text><text x="325" y="891.55" textLength="82.6" lengthAdjust="spacingAndGlyphs">-550pts</text></g>
<g font-family='"Liberation Sans", sans-serif' font-weight="700" font-size="23.8" fill="#0CB14F" stroke="#0CB14F" stroke-width="0.55" stroke-linejoin="round"><text x="634.35" y="739.2" textLength="60.3" lengthAdjust="spacingAndGlyphs">+20%</text><text x="609.95" y="772.4" textLength="109.1" lengthAdjust="spacingAndGlyphs">+1,000pts</text></g>
<g font-family='"Liberation Sans", sans-serif' font-weight="700" font-size="23.8" fill="#C00000" stroke="#C00000" stroke-width="0.55" stroke-linejoin="round"><text x="1127.27" y="755.3" textLength="54.65" lengthAdjust="spacingAndGlyphs">-21%</text><text x="1102.9" y="788.3" textLength="103.4" lengthAdjust="spacingAndGlyphs">-1,300pts</text></g>
<g font-family='"Liberation Sans", sans-serif' font-weight="700" font-size="23.8" fill="#0CB14F" stroke="#0CB14F" stroke-width="0.55" stroke-linejoin="round"><text x="1648.38" y="651.05" textLength="61.05" lengthAdjust="spacingAndGlyphs">+30%</text><text x="1624.38" y="684.05" textLength="109.05" lengthAdjust="spacingAndGlyphs">+1,450pts</text></g>
</svg>
</body></html>
